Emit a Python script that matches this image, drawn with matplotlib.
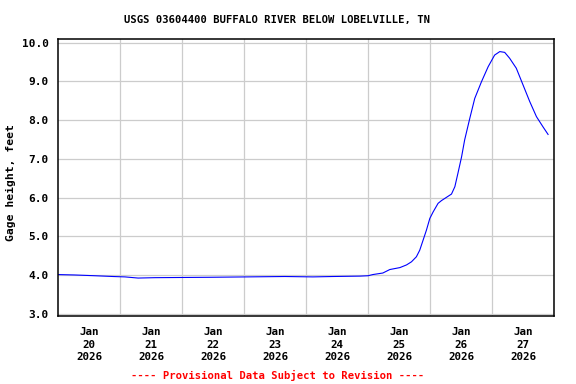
import pandas as pd
import matplotlib
matplotlib.use("Agg")
import matplotlib.pyplot as plt

# Hours since 2026-01-20 00:00 and gage height (feet)
hours = [0, 6.2, 14.2, 21.2, 25.8, 30.9, 37.4, 58.7, 87.8, 98.6, 106.3, 116.8,
         120.0, 121.8, 125.7, 128.4, 132.3, 134.9, 136.8, 138.7, 140.0, 141.3,
         142.6, 143.9, 145.2, 147.1, 148.4, 152.3, 153.6, 154.8, 156.2, 157.4,
         159.4, 161.3, 163.9, 166.5, 169.0, 171.0, 172.9, 174.8, 177.4, 180.0,
         182.6, 185.2, 187.7, 189.7]
gage = [4.01, 4.00, 3.98, 3.96, 3.95, 3.92, 3.93, 3.94, 3.96, 3.95, 3.96, 3.97,
        3.98, 4.01, 4.05, 4.14, 4.19, 4.26, 4.34, 4.47, 4.64, 4.90,
        5.16, 5.46, 5.63, 5.85, 5.92, 6.09, 6.28, 6.63, 7.05, 7.49,
        8.05, 8.56, 8.99, 9.38, 9.68, 9.77, 9.75, 9.60, 9.34, 8.91,
        8.48, 8.09, 7.83, 7.63]
day_labels = ["Jan\n20\n2026", "Jan\n21\n2026", "Jan\n22\n2026", "Jan\n23\n2026",
              "Jan\n24\n2026", "Jan\n25\n2026", "Jan\n26\n2026", "Jan\n27\n2026"]
y_ticks = [3.0, 4.0, 5.0, 6.0, 7.0, 8.0, 9.0, 10.0]

start = pd.Timestamp("2026-01-20")
times = start + pd.to_timedelta(hours, unit="h")

plt.rcParams['font.family'] = "DejaVu Sans Mono"
plt.rcParams['font.weight'] = 'bold'

fig = plt.figure(figsize=(5.76, 3.84), dpi=100)
ax = fig.add_axes([0.1012, 0.1771, 0.8606, 0.7206])

ax.plot(times, gage, color='#0000ff', linewidth=0.8)

ax.set_xlim(start, start + pd.Timedelta(days=8))
ax.set_ylim(2.94, 10.088)

noon = [start + pd.Timedelta(hours=12 + 24 * i) for i in range(len(day_labels))]
midnight = [start + pd.Timedelta(days=i) for i in range(1, 9)]
ax.set_xticks(noon)
ax.set_xticklabels(day_labels, fontsize=7.8, fontweight='bold', linespacing=1.3)
ax.set_xticks(midnight, minor=True)
ax.set_yticks(y_ticks)
ax.set_yticklabels([f"{v:.1f}" for v in y_ticks], fontsize=8, fontweight='bold')

ax.tick_params(axis='both', which='both', length=0)
ax.tick_params(axis='x', pad=8)
ax.tick_params(axis='y', pad=7)

ax.grid(False)
ax.xaxis.grid(True, which='minor', color='#cccccc', linewidth=0.9)
ax.yaxis.grid(True, which='major', color='#cccccc', linewidth=0.9)
ax.set_axisbelow(True)

for s in ax.spines.values():
    s.set_linewidth(1.1)
    s.set_color('black')

fig.text(277.5 / 576, 1 - 20 / 384, "USGS 03604400 BUFFALO RIVER BELOW LOBELVILLE, TN",
         ha='center', va='center', fontsize=7.6, fontweight='bold')
fig.text(11 / 576, 1 - 183 / 384, "Gage height, feet", rotation=90,
         ha='center', va='center', fontsize=8.2, fontweight='bold')
fig.text(277.5 / 576, 1 - 375 / 384, "---- Provisional Data Subject to Revision ----",
         ha='center', va='center', fontsize=7.6, fontweight='bold', color='red')

fig.savefig("out.png", dpi=100)
